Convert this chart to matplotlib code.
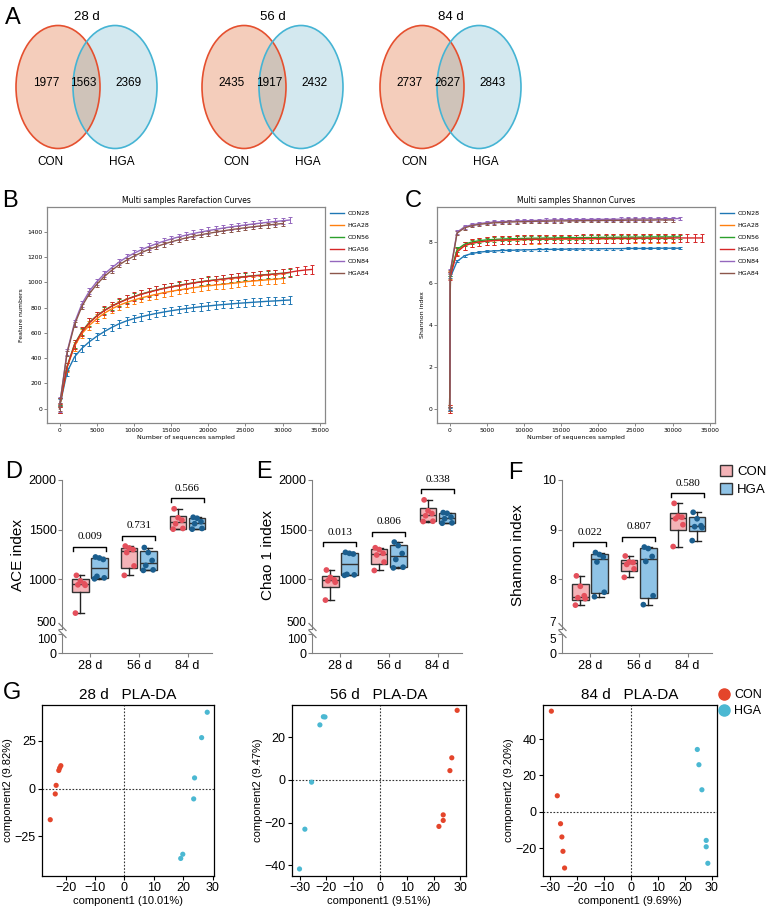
import numpy as np
import matplotlib.pyplot as plt
from matplotlib.patches import Ellipse, Patch
from matplotlib.lines import Line2D

plt.rcParams["font.family"] = ["Liberation Sans", "DejaVu Sans"]

# ---------------- data ----------------
DAYS = ["28 d", "56 d", "84 d"]

# A: Venn counts
VENN_CON_ONLY = [1977, 2435, 2737]
VENN_SHARED = [1563, 1917, 2627]
VENN_HGA_ONLY = [2369, 2432, 2843]

# B / C: rarefaction curves
SAMPLES = ["CON28", "HGA28", "CON56", "HGA56", "CON84", "HGA84"]
DEPTH = [0, 100] + list(range(1000, 35000, 1000))

FEAT_CON28 = [0, 45, 290, 410, 478, 530, 573, 610, 643, 672, 695, 713, 728, 742, 754, 765, 775,
              784, 792, 800, 807, 813, 819, 824, 829, 834, 838, 842, 846, 850, 853, 857, 860]
FEAT_HGA28 = [0, 50, 325, 495, 595, 660, 712, 755, 790, 818, 841, 860, 877, 892, 905, 918, 929,
              939, 948, 957, 965, 972, 979, 985, 991, 997, 1005, 1010, 1015, 1020, 1025, 1030]
FEAT_CON56 = [0, 55, 335, 510, 612, 684, 736, 778, 812, 841, 866, 888, 907, 924, 939, 953, 965,
              976, 986, 996, 1005, 1013, 1020, 1027, 1034, 1040, 1046, 1052, 1057, 1062, 1067, 1072, 1077]
FEAT_HGA56 = [0, 52, 330, 505, 608, 680, 733, 775, 810, 839, 864, 886, 905, 922, 937, 951, 963,
              974, 984, 994, 1003, 1011, 1018, 1025, 1032, 1038, 1044, 1050, 1055, 1060, 1065, 1070,
              1080, 1090, 1097, 1102]
FEAT_CON84 = [0, 70, 450, 680, 830, 930, 1005, 1065, 1115, 1160, 1198, 1230, 1258, 1283, 1305, 1325,
              1343, 1359, 1373, 1386, 1398, 1409, 1419, 1429, 1438, 1446, 1454, 1461, 1468, 1475,
              1481, 1487, 1493]
FEAT_HGA84 = [0, 68, 440, 665, 810, 910, 985, 1045, 1095, 1138, 1175, 1207, 1235, 1260, 1282, 1302,
              1320, 1336, 1351, 1364, 1376, 1387, 1397, 1407, 1416, 1424, 1432, 1439, 1446, 1453,
              1459, 1465]
FEAT_ERR = [30, 35, 30, 35, 25, 20]

SHAN_CON28 = [0, 6.3, 7.05, 7.32, 7.43, 7.49, 7.53, 7.55, 7.57, 7.58, 7.59, 7.60, 7.61, 7.62, 7.62,
              7.63, 7.63, 7.64, 7.64, 7.65, 7.65, 7.65, 7.66, 7.66, 7.66, 7.67, 7.67, 7.67, 7.67,
              7.68, 7.68, 7.68, 7.68]
SHAN_HGA28 = [0, 6.4, 7.55, 7.8, 7.92, 7.98, 8.02, 8.04, 8.06, 8.07, 8.08, 8.09, 8.10, 8.10, 8.11,
              8.11, 8.12, 8.12, 8.12, 8.13, 8.13, 8.13, 8.13, 8.14, 8.14, 8.14, 8.14, 8.15, 8.15,
              8.15, 8.15, 8.15]
SHAN_CON56 = [0, 6.45, 7.62, 7.87, 7.98, 8.04, 8.08, 8.10, 8.12, 8.13, 8.14, 8.15, 8.16, 8.16, 8.17,
              8.17, 8.18, 8.18, 8.19, 8.19, 8.19, 8.20, 8.20, 8.20, 8.21, 8.21, 8.21, 8.21, 8.22,
              8.22, 8.22, 8.22, 8.22]
SHAN_HGA56 = [0, 6.35, 7.5, 7.8, 7.92, 7.98, 8.02, 8.05, 8.07, 8.08, 8.09, 8.10, 8.11, 8.11, 8.12,
              8.12, 8.13, 8.13, 8.13, 8.14, 8.14, 8.14, 8.15, 8.15, 8.15, 8.15, 8.16, 8.16, 8.16,
              8.16, 8.16, 8.17, 8.17, 8.17, 8.17, 8.17]
SHAN_CON84 = [0, 6.6, 8.45, 8.70, 8.80, 8.86, 8.90, 8.93, 8.95, 8.97, 8.98, 8.99, 9.00, 9.01, 9.02,
              9.03, 9.03, 9.04, 9.04, 9.05, 9.05, 9.06, 9.06, 9.06, 9.07, 9.07, 9.07, 9.08, 9.08,
              9.08, 9.09, 9.09, 9.10]
SHAN_HGA84 = [0, 6.55, 8.4, 8.65, 8.76, 8.82, 8.86, 8.89, 8.91, 8.93, 8.94, 8.95, 8.96, 8.97, 8.97,
              8.98, 8.98, 8.99, 8.99, 9.00, 9.00, 9.00, 9.01, 9.01, 9.01, 9.02, 9.02, 9.02, 9.02,
              9.03, 9.03, 9.03]
SHAN_ERR = [0.05, 0.2, 0.1, 0.2, 0.08, 0.08]

# D / E / F: alpha diversity (6 animals per group)
ACE_CON = [[660, 940, 945, 955, 985, 1040], [1040, 1135, 1270, 1300, 1315, 1335],
           [1505, 1512, 1560, 1595, 1620, 1710]]
ACE_HGA = [[1005, 1015, 1030, 1200, 1215, 1225], [1090, 1095, 1140, 1190, 1270, 1320],
           [1505, 1512, 1560, 1580, 1615, 1625]]
ACE_P = ["0.009", "0.731", "0.566"]
CHAO_CON = [[791, 971, 985, 995, 1020, 1094], [1089, 1174, 1245, 1262, 1300, 1318],
            [1582, 1585, 1640, 1662, 1690, 1800]]
CHAO_HGA = [[1040, 1045, 1050, 1255, 1262, 1272], [1115, 1122, 1200, 1260, 1340, 1375],
            [1565, 1568, 1610, 1626, 1665, 1672]]
CHAO_P = ["0.013", "0.806", "0.338"]
SHANNON_CON = [[7.48, 7.61, 7.63, 7.67, 7.86, 8.07], [8.04, 8.21, 8.30, 8.34, 8.35, 8.47],
               [8.66, 9.10, 9.22, 9.25, 9.27, 9.53]]
SHANNON_HGA = [[7.65, 7.74, 8.35, 8.45, 8.50, 8.54], [7.49, 7.67, 8.36, 8.46, 8.62, 8.65],
               [8.78, 9.04, 9.06, 9.08, 9.22, 9.35]]
SHANNON_P = ["0.022", "0.807", "0.580"]

# G: PLS-DA scores
PLS_CON_X = [[-21.6, -22.0, -22.3, -23.2, -23.5, -25.2],
             [28.8, 26.8, 26.1, 23.6, 23.6, 22.0],
             [-29.5, -27.3, -26.1, -25.6, -25.2, -24.6]]
PLS_CON_Y = [[12.0, 10.8, 9.5, 1.7, -2.8, -16.3],
             [32.5, 10.3, 4.3, -16.4, -19.0, -21.8],
             [55.4, 8.8, -6.6, -13.9, -21.8, -31.0]]
PLS_HGA_X = [[28.1, 26.2, 23.8, 23.5, 19.8, 19.1],
             [-21.1, -20.5, -22.4, -25.5, -28.0, -30.0],
             [24.6, 25.2, 26.3, 27.9, 27.9, 28.5]]
PLS_HGA_Y = [[40.0, 26.7, 5.6, -5.4, -34.4, -36.6],
             [29.5, 29.4, 25.7, -1.1, -23.1, -41.7],
             [34.3, 25.9, 12.1, -15.8, -19.3, -28.4]]
PLS_XLABEL = ["component1 (10.01%)", "component1 (9.51%)", "component1 (9.69%)"]
PLS_YLABEL = ["component2 (9.82%)", "component2 (9.47%)", "component2 (9.20%)"]

# ---------------- layout helpers ----------------
W, H = 767, 909
fig = plt.figure(figsize=(W / 100, H / 100), dpi=100)


def rect(l, t, r, b):
    return [l / W, 1 - b / H, (r - l) / W, (b - t) / H]


def fx(x):
    return x / W


def fy(y):
    return 1 - y / H


for letter, (x, y) in zip("ABCDEFG", [(13, 18), (10, 201), (413, 201), (14, 472),
                                      (264, 472), (515, 473), (12, 693)]):
    fig.text(fx(x), fy(y), letter, fontsize=17, ha="center", va="center")

# ---------------- A: Venn diagrams ----------------
ax_a = fig.add_axes(rect(0, 0, W, 175))
ax_a.set_xlim(0, W)
ax_a.set_ylim(175, 0)
ax_a.axis("off")

venn_left = [58, 244, 422]
for i, cx in enumerate(venn_left):
    rx = cx + 57
    left = Ellipse((cx, 87), 84, 123, facecolor="#f4cdbb", edgecolor="none")
    right = Ellipse((rx, 87), 84, 123, facecolor="#d3e8ef", edgecolor="none")
    ax_a.add_patch(left)
    ax_a.add_patch(right)
    overlap = Ellipse((rx, 87), 84, 123, facecolor="#cfc3b9", edgecolor="none")
    ax_a.add_patch(overlap)
    overlap.set_clip_path(left)
    ax_a.add_patch(Ellipse((cx, 87), 84, 123, fill=False, edgecolor="#e5502f", lw=1.2))
    ax_a.add_patch(Ellipse((rx, 87), 84, 123, fill=False, edgecolor="#45b4d4", lw=1.2))
    ax_a.text((cx + rx) / 2, 17, DAYS[i], fontsize=9.5, ha="center", va="center")
    ax_a.text(cx - 12, 83, str(VENN_CON_ONLY[i]), fontsize=8.5, ha="center", va="center")
    ax_a.text((cx + rx) / 2 - 3, 83, str(VENN_SHARED[i]), fontsize=8.5, ha="center", va="center")
    ax_a.text(rx + 13, 83, str(VENN_HGA_ONLY[i]), fontsize=8.5, ha="center", va="center")
    ax_a.text(cx - 8, 162, "CON", fontsize=8.5, ha="center", va="center")
    ax_a.text(rx + 7, 162, "HGA", fontsize=8.5, ha="center", va="center")

# ---------------- B / C: rarefaction ----------------
curve_colors = ["#1f77b4", "#ff7f0e", "#2ca02c", "#d62728", "#9467bd", "#8c564b"]
small = dict(family="DejaVu Sans")


def rarefaction(ax, series, errs, title, ylabel):
    for vals, err, color in zip(series, errs, curve_colors):
        ax.errorbar(DEPTH[:len(vals)], vals, yerr=err, color=color, lw=1.0,
                    elinewidth=0.7, capsize=1.2, capthick=0.7)
    ax.set_xticks(range(0, 35001, 5000))
    ax.set_title(title, fontsize=5.5, pad=3, **small)
    ax.set_xlabel("Number of sequences sampled", fontsize=4.5, labelpad=1.5, **small)
    ax.set_ylabel(ylabel, fontsize=4.5, labelpad=2, **small)
    ax.tick_params(labelsize=4.3, length=2, width=0.5, pad=1.5, color="#555555")
    for lab in ax.get_xticklabels() + ax.get_yticklabels():
        lab.set_family("DejaVu Sans")
    for sp in ax.spines.values():
        sp.set_color("#888888")
        sp.set_linewidth(0.9)
    handles = [Line2D([0], [0], color=c, lw=1.0) for c in curve_colors]
    ax.legend(handles, SAMPLES, loc="upper left", bbox_to_anchor=(1.005, 1.0), frameon=False,
              prop=dict(family="DejaVu Sans", size=4.5), handlelength=2.2, labelspacing=1.05,
              borderaxespad=0.2, handletextpad=0.6)


ax_b = fig.add_axes(rect(47, 207, 325, 423))
rarefaction(ax_b, [FEAT_CON28, FEAT_HGA28, FEAT_CON56, FEAT_HGA56, FEAT_CON84, FEAT_HGA84],
            FEAT_ERR, "Multi samples Rarefaction Curves", "Feature numbers")
ax_c = fig.add_axes(rect(437, 207, 715, 423))
rarefaction(ax_c, [SHAN_CON28, SHAN_HGA28, SHAN_CON56, SHAN_HGA56, SHAN_CON84, SHAN_HGA84],
            SHAN_ERR, "Multi samples Shannon Curves", "Shannon index")

# ---------------- D / E / F: box plots with broken axis ----------------
CON_FILL, CON_DOT = "#f4b3b7", "#e4505c"
HGA_FILL, HGA_DOT = "#8fc3e6", "#1b5e8e"
JITTER = [-0.1, 0.1, -0.05, 0.08, 0.0, -0.08]
SPINE = "#808080"


def box_stats(vals):
    v = np.asarray(vals, float)
    q1, med, q3 = np.percentile(v, [25, 50, 75], method="weibull")
    return dict(med=med, q1=q1, q3=q3, whislo=v.min(), whishi=v.max(), fliers=[])


def box_panel(x0, ylabel, con, hga, pvals, upper, uticks, lower, lticks):
    ax = fig.add_axes(rect(x0, 480, x0 + 150, 629))
    axl = fig.add_axes(rect(x0, 634, x0 + 150, 653))

    span = upper[1] - upper[0]
    for g in range(3):
        for vals, off, fill, dot in ((con[g], -0.195, CON_FILL, CON_DOT),
                                     (hga[g], 0.195, HGA_FILL, HGA_DOT)):
            pos = g + 1 + off
            ax.bxp([box_stats(vals)], positions=[pos], widths=0.34, patch_artist=True,
                   showfliers=False, capwidths=0.17, manage_ticks=False,
                   boxprops=dict(facecolor=fill, edgecolor="#333333", lw=1),
                   medianprops=dict(color="#333333", lw=1),
                   whiskerprops=dict(color="#222222", lw=1),
                   capprops=dict(color="#222222", lw=1))
            ax.scatter(pos + np.array(JITTER), vals, s=17, color=dot, edgecolors="none", zorder=3)
        top = max(max(con[g]), max(hga[g])) + 0.07 * span
        drop = 0.027 * span
        ax.plot([g + 0.66, g + 0.66, g + 1.34, g + 1.34], [top - drop, top, top, top - drop],
                color="k", lw=1)
        ax.text(g + 1, top + 0.066 * span, pvals[g], fontsize=8, ha="center", va="center",
                family="Liberation Serif")

    for a in (ax, axl):
        a.set_xlim(0.43, 3.5)
        for sp in ("top", "right"):
            a.spines[sp].set_visible(False)
        a.spines["left"].set_color(SPINE)
        a.spines["bottom"].set_color(SPINE)
        a.tick_params(axis="y", labelsize=9, length=3, color=SPINE, pad=1)
    ax.spines["bottom"].set_visible(False)
    ax.set_xticks([])
    ax.set_ylim(*upper)
    ax.set_yticks(uticks)
    axl.set_ylim(*lower)
    axl.set_yticks(lticks)
    axl.set_xticks([1, 2, 3])
    axl.set_xticklabels(DAYS)
    axl.tick_params(axis="x", labelsize=9, length=3, color=SPINE, pad=2)
    # the two labels beside the axis break sit close together, as in the original
    ax.yaxis.get_major_ticks()[0].label1.set_verticalalignment("bottom")
    ax.yaxis.get_major_ticks()[0].label1.set_fontsize(8.5)
    axl.yaxis.get_major_ticks()[-1].label1.set_verticalalignment("top")
    axl.yaxis.get_major_ticks()[-1].label1.set_fontsize(8.5)

    for yc in (627, 634):
        fig.add_artist(Line2D([fx(x0 - 3), fx(x0 + 4)], [fy(yc - 3.5), fy(yc + 3.5)],
                              color=SPINE, lw=0.9))
    fig.text(fx(x0 - 44), fy(555), ylabel, fontsize=11, rotation=90, ha="center", va="center")


box_panel(62, "ACE index", ACE_CON, ACE_HGA, ACE_P, (500, 2000), [500, 1000, 1500, 2000],
          (0, 100), [0, 100])
box_panel(312, "Chao 1 index", CHAO_CON, CHAO_HGA, CHAO_P, (500, 2000), [500, 1000, 1500, 2000],
          (0, 100), [0, 100])
box_panel(562, "Shannon index", SHANNON_CON, SHANNON_HGA, SHANNON_P, (7, 10), [7, 8, 9, 10],
          (0, 5), [0, 5])

fig.legend(handles=[Patch(facecolor=CON_FILL, edgecolor="#333333"),
                    Patch(facecolor=HGA_FILL, edgecolor="#333333")],
           labels=["CON", "HGA"], loc="upper left", bbox_to_anchor=(fx(720), fy(465)),
           frameon=False, fontsize=9.5, handlelength=0.9, handleheight=0.9, handletextpad=0.4,
           labelspacing=0.4, borderaxespad=0, borderpad=0)

# ---------------- G: PLS-DA ----------------
PLS_RED, PLS_BLUE = "#e4452b", "#4bb8d2"
pls_boxes = [(42, 214), (292, 466), (543, 717)]
pls_xlim = [(-28, 30.4), (-32.8, 32.1), (-32.6, 31.9)]
pls_ylim = [(-45.8, 43.8), (-45, 35), (-35.4, 58.8)]
pls_xticks = [[-20, -10, 0, 10, 20, 30], [-30, -20, -10, 0, 10, 20, 30], [-30, -20, -10, 0, 10, 20, 30]]
pls_yticks = [[-25, 0, 25], [-40, -20, 0, 20], [-20, 0, 20, 40]]

for i, (l, r) in enumerate(pls_boxes):
    ax = fig.add_axes(rect(l, 705, r, 876))
    ax.axhline(0, color="#333333", ls=(0, (1.5, 1.5)), lw=0.8, zorder=1)
    ax.axvline(0, color="#333333", ls=(0, (1.5, 1.5)), lw=0.8, zorder=1)
    ax.scatter(PLS_CON_X[i], PLS_CON_Y[i], s=14, color=PLS_RED, edgecolors="none", zorder=3)
    ax.scatter(PLS_HGA_X[i], PLS_HGA_Y[i], s=14, color=PLS_BLUE, edgecolors="none", zorder=3)
    ax.set_xlim(*pls_xlim[i])
    ax.set_ylim(*pls_ylim[i])
    ax.set_xticks(pls_xticks[i])
    ax.set_yticks(pls_yticks[i])
    ax.tick_params(labelsize=9, length=3, pad=1.5)
    for sp in ax.spines.values():
        sp.set_linewidth(0.9)
    ax.set_title(DAYS[i] + "   PLA-DA", fontsize=11, pad=4)
    ax.set_xlabel(PLS_XLABEL[i], fontsize=8, labelpad=1)
    ax.set_ylabel(PLS_YLABEL[i], fontsize=8, labelpad=1)

fig.legend(handles=[Line2D([0], [0], marker="o", ls="none", color=PLS_RED, markersize=8),
                    Line2D([0], [0], marker="o", ls="none", color=PLS_BLUE, markersize=8)],
           labels=["CON", "HGA"], loc="upper left", bbox_to_anchor=(fx(718), fy(689)),
           frameon=False, fontsize=9, handlelength=1.0, handletextpad=0.3,
           labelspacing=0.35, borderaxespad=0, borderpad=0)

fig.savefig("out.png", dpi=100)
